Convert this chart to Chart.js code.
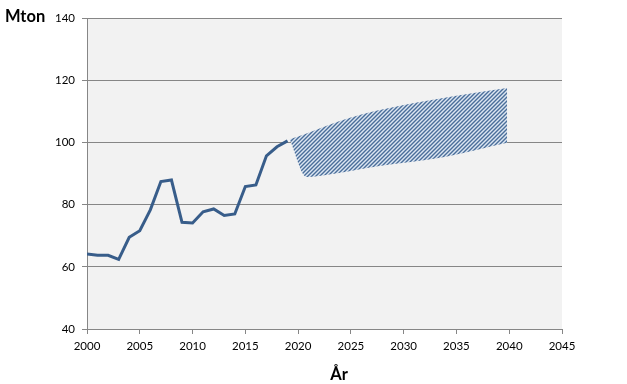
<!DOCTYPE html>
<html lang="sv">
<head>
  <meta charset="UTF-8" />
  <title>Mton per år</title>
  <script src="https://cdn.jsdelivr.net/npm/chart.js"></script>
  <style>
    body { margin: 0; background: #fff; }
    #wrap { position: relative; width: 627px; height: 384px; }
  </style>
</head>
<body>
  <div id="wrap"><canvas id="chart" width="627" height="384"></canvas></div>

  <script>
    // historical series
    const years = [2000, 2001, 2002, 2003, 2004, 2005, 2006, 2007, 2008, 2009,
                   2010, 2011, 2012, 2013, 2014, 2015, 2016, 2017, 2018, 2019];
    const emissions = [64.1, 63.7, 63.7, 62.4, 69.5, 71.6, 78.3, 87.4, 87.9, 74.3,
                       74.1, 77.7, 78.6, 76.5, 77.0, 85.8, 86.3, 95.7, 98.6, 100.5];

    // projection band (upper and lower edge)
    const highYears = [2019.2, 2020.8, 2025, 2030, 2035, 2039.8];
    const projHigh  = [101, 102.9, 108, 112, 115, 117.5];
    const lowYears  = [2019.2, 2020.8, 2022, 2027.7, 2034, 2039.8];
    const projLow   = [101, 88.9, 89.2, 92.4, 95.4, 99.9];

    const yTicks = [40, 60, 80, 100, 120, 140];
    const xTicks = [2000, 2005, 2010, 2015, 2020, 2025, 2030, 2035, 2040, 2045];

    const lineBlue = '#385d8a';
    const gridGrey = '#868686';

    function hatch() {
      const c = document.createElement('canvas');
      c.width = 4; c.height = 4;
      const g = c.getContext('2d');
      g.fillStyle = '#dce6f2';
      g.fillRect(0, 0, 4, 4);
      g.strokeStyle = '#4a6e9a';
      g.lineWidth = 1.4;
      g.beginPath();
      g.moveTo(0, 4); g.lineTo(4, 0);
      g.moveTo(-1, 1); g.lineTo(1, -1);
      g.moveTo(3, 5); g.lineTo(5, 3);
      g.stroke();
      return g.createPattern(c, 'repeat');
    }

    const pts = (xs, ys) => xs.map((x, i) => ({ x: x, y: ys[i] }));

    const plotBg = {
      id: 'plotBg',
      beforeDraw(chart) {
        const a = chart.chartArea, ctx = chart.ctx;
        ctx.save();
        ctx.fillStyle = '#f2f2f2';
        ctx.fillRect(a.left, a.top, a.right - a.left, a.bottom - a.top);
        ctx.restore();
      },
      afterDraw(chart) {
        const ctx = chart.ctx;
        ctx.save();
        ctx.fillStyle = '#000';
        ctx.font = 'bold 16.5px Lato, "Open Sans", sans-serif';
        ctx.textBaseline = 'alphabetic';
        ctx.textAlign = 'left';
        ctx.fillText('Mton', 5, 22);
        ctx.textAlign = 'center';
        ctx.fillText('År', 339, 380);
        ctx.restore();
      }
    };

    new Chart(document.getElementById('chart'), {
      type: 'line',
      data: {
        datasets: [
          {
            data: pts(highYears, projHigh),
            borderWidth: 0,
            borderColor: 'rgba(0,0,0,0)',
            backgroundColor: hatch(),
            pointRadius: 0,
            cubicInterpolationMode: 'monotone',
            fill: '+1'
          },
          {
            data: pts(lowYears, projLow),
            borderWidth: 0,
            borderColor: 'rgba(0,0,0,0)',
            pointRadius: 0,
            cubicInterpolationMode: 'monotone',
            fill: false
          },
          {
            data: pts(years, emissions),
            borderColor: lineBlue,
            borderWidth: 3,
            pointRadius: 0,
            fill: false
          }
        ]
      },
      options: {
        responsive: false,
        animation: false,
        devicePixelRatio: 1,
        layout: { padding: { top: 18, right: 65, left: 0, bottom: 0 } },
        plugins: { legend: { display: false }, tooltip: { enabled: false } },
        scales: {
          x: {
            type: 'linear',
            min: 2000,
            max: 2045,
            afterBuildTicks: s => { s.ticks = xTicks.map(v => ({ value: v })); },
            afterFit: s => { s.height = 55; },
            border: { color: gridGrey, width: 1 },
            grid: { drawOnChartArea: false, drawTicks: true, tickLength: 5, color: gridGrey },
            ticks: {
              padding: 5,
              color: '#000',
              font: { family: 'Lato, "Open Sans", sans-serif', size: 11.5 },
              maxRotation: 0,
              callback: v => String(v)
            }
          },
          y: {
            min: 40,
            max: 140,
            afterBuildTicks: s => { s.ticks = yTicks.map(v => ({ value: v })); },
            afterFit: s => { s.width = 87; },
            border: { color: gridGrey, width: 1 },
            grid: { color: gridGrey, lineWidth: 1, tickLength: 5 },
            ticks: {
              padding: 7,
              color: '#000',
              font: { family: 'Lato, "Open Sans", sans-serif', size: 11.5 },
              callback: v => String(v)
            }
          }
        }
      },
      plugins: [plotBg]
    });
  </script>
</body>
</html>
